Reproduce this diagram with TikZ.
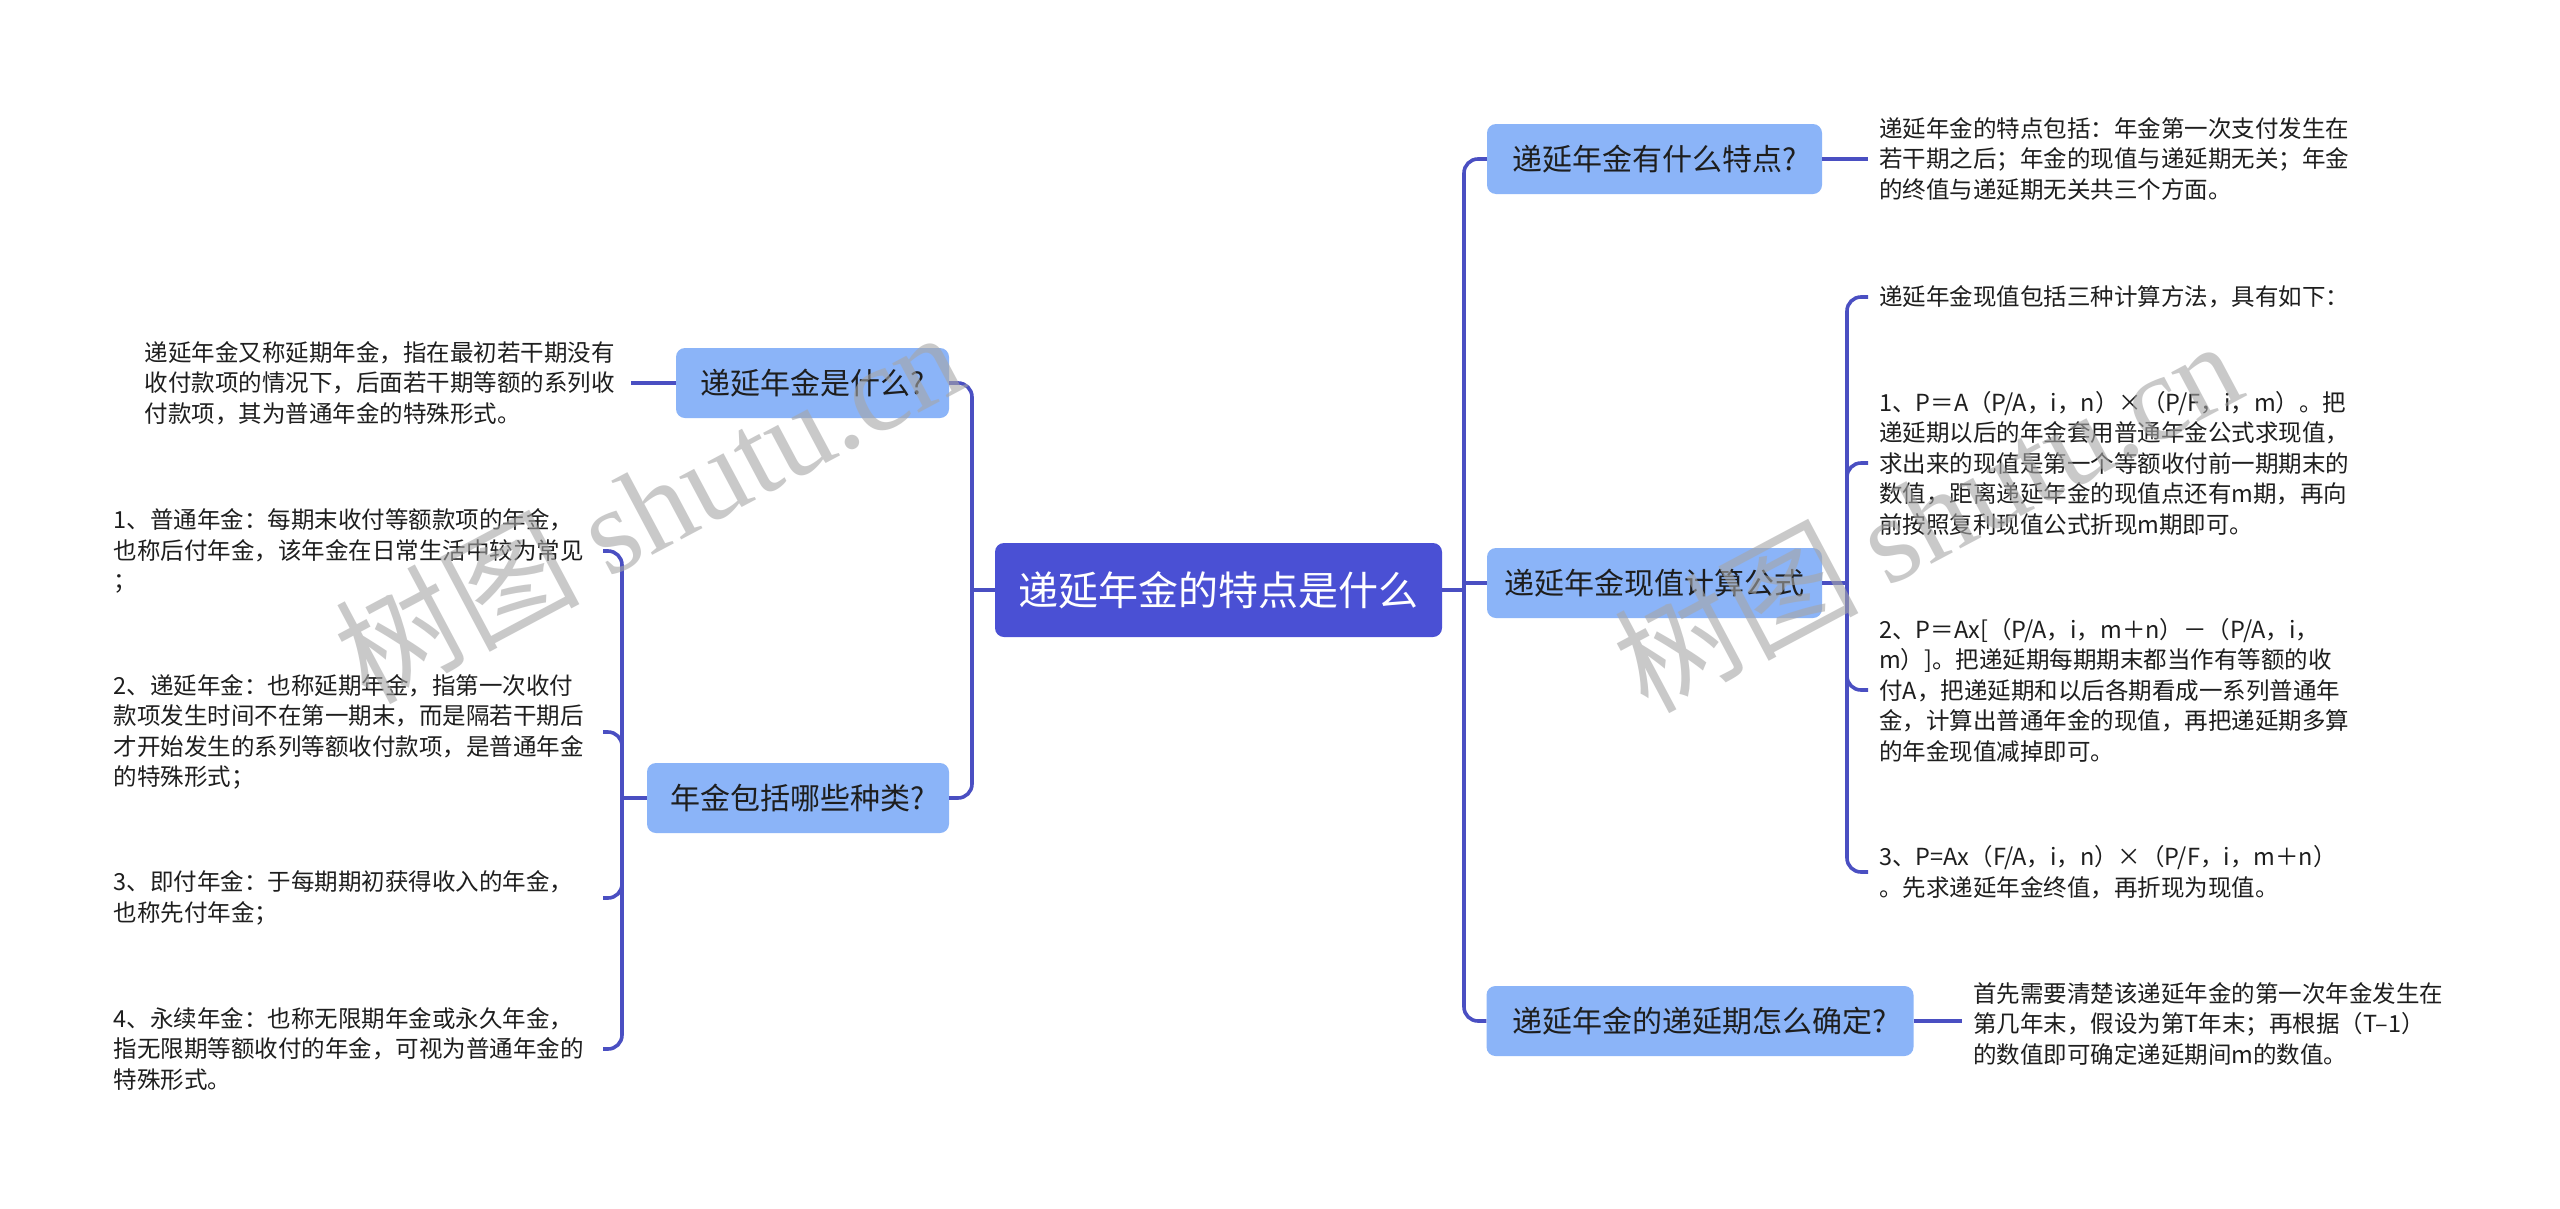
\documentclass[tikz,border=0pt]{standalone}
\usepackage{fontspec}
\setmainfont{Noto Sans CJK SC}
\newfontfamily\cjkfont{Noto Sans CJK SC}
\newfontfamily\wmfont{Liberation Serif}
\definecolor{rootblue}{HTML}{4A50D4}
\definecolor{topicblue}{HTML}{8BB4F8}
\definecolor{lineblue}{HTML}{4A4FC2}
\definecolor{textdark}{HTML}{1E1E1E}
\tikzset{
  conn/.style={draw=lineblue, line width=3.6pt, rounded corners=14pt},
  rootbox/.style={fill=rootblue, rounded corners=9pt, text=white, font=\fontsize{40}{48}\selectfont, minimum width=447pt, minimum height=94pt, inner sep=0pt},
  topic/.style={fill=topicblue, rounded corners=9pt, text=textdark, font=\fontsize{30}{36}\selectfont, minimum height=70pt, inner sep=0pt},
  leaf/.style={text=textdark, font=\fontsize{23.5}{30.5}\selectfont, align=left, inner xsep=11pt, inner ysep=0pt},
  wm/.style={text=gray!70, opacity=0.6, rotate=28, font=\fontsize{122}{130}\selectfont, inner sep=0pt},
}
\begin{document}
\begin{tikzpicture}[x=1pt, y=-1pt]
\useasboundingbox (0,0) rectangle (2560,1208);
\fill[white] (0,0) rectangle (2560,1208);

% root and topics
\node[rootbox] (root) at (1218.5,590) {递延年金的特点是什么};
\node[topic, minimum width=335pt] (b1) at (1654.5,159) {递延年金有什么特点?};
\node[topic, minimum width=335pt] (b2) at (1654.5,583) {递延年金现值计算公式};
\node[topic, minimum width=427pt] (b3) at (1700,1021) {递延年金的递延期怎么确定?};
\node[topic, minimum width=273pt] (a1) at (812.5,383) {递延年金是什么?};
\node[topic, minimum width=302pt] (a2) at (798,798) {年金包括哪些种类?};

% junctions
\coordinate (jr) at (1464,590);
\coordinate (jl) at (972,590);
\coordinate (jb2) at (1847,583);
\coordinate (ja2) at (622,798);

% right leaves
\node[leaf, anchor=west] (b1l) at (1868,159) {递延年金的特点包括：年金第一次支付发生在\\若干期之后；年金的现值与递延期无关；年金\\的终值与递延期无关共三个方面。};
\node[leaf, anchor=west] (b2l1) at (1868,297) {递延年金现值包括三种计算方法，具有如下：};
\node[leaf, anchor=west] (b2l2) at (1868,463) {1、P＝A（P/A，i，n）×（P/F，i，m）。把\\递延期以后的年金套用普通年金公式求现值，\\求出来的现值是第一个等额收付前一期期末的\\数值，距离递延年金的现值点还有m期，再向\\前按照复利现值公式折现m期即可。};
\node[leaf, anchor=west] (b2l3) at (1868,690) {2、P＝Ax[（P/A，i，m＋n）－（P/A，i，\\m）]。把递延期每期期末都当作有等额的收\\付A，把递延期和以后各期看成一系列普通年\\金，计算出普通年金的现值，再把递延期多算\\的年金现值减掉即可。};
\node[leaf, anchor=west] (b2l4) at (1868,872) {3、P=Ax（F/A，i，n）×（P/F，i，m＋n）\\。先求递延年金终值，再折现为现值。};
\node[leaf, anchor=west] (b3l) at (1962,1024) {首先需要清楚该递延年金的第一次年金发生在\\第几年末，假设为第T年末；再根据（T–1）\\的数值即可确定递延期间m的数值。};

% left leaves
\node[leaf, anchor=east, text width=475pt] (a1l) at (631,383) {递延年金又称延期年金，指在最初若干期没有\\收付款项的情况下，后面若干期等额的系列收\\付款项，其为普通年金的特殊形式。};
\node[leaf, anchor=east, text width=478pt] (a2l1) at (603,551) {1、普通年金：每期末收付等额款项的年金，\\也称后付年金，该年金在日常生活中较为常见\\；};
\node[leaf, anchor=east, text width=478pt] (a2l2) at (603,732) {2、递延年金：也称延期年金，指第一次收付\\款项发生时间不在第一期末，而是隔若干期后\\才开始发生的系列等额收付款项，是普通年金\\的特殊形式；};
\node[leaf, anchor=east, text width=478pt] (a2l3) at (603,898) {3、即付年金：于每期期初获得收入的年金，\\也称先付年金；};
\node[leaf, anchor=east, text width=478pt] (a2l4) at (603,1049) {4、永续年金：也称无限期年金或永久年金，\\指无限期等额收付的年金，可视为普通年金的\\特殊形式。};

% connectors
\draw[conn] (root.east) -- (jr);
\draw[conn] (jr) |- (b1.west);
\draw[conn] (jr) |- (b3.west);
\draw[conn] (jr |- b2.west) -- (b2.west);
\draw[conn] (root.west) -- (jl);
\draw[conn] (jl) |- (a1.east);
\draw[conn] (jl) |- (a2.east);

\draw[conn] (b1.east) -- (b1l.west);
\draw[conn] (b2.east) -- (jb2);
\draw[conn] (jb2) |- (b2l1.west);
\draw[conn] (jb2) |- (b2l2.west);
\draw[conn] (jb2) |- (b2l3.west);
\draw[conn] (jb2) |- (b2l4.west);
\draw[conn] (b3.east) -- (b3.east -| b3l.west);

\draw[conn] (a1.west) -- (a1l.east);
\draw[conn] (a2.west) -- (ja2);
\draw[conn] (ja2) |- (a2l1.east);
\draw[conn] (ja2) |- (a2l2.east);
\draw[conn] (ja2) |- (a2l3.east);
\draw[conn] (ja2) |- (a2l4.east);

% watermarks
\node[wm] (wm1) at (648,505) {\cjkfont 树图 \wmfont shutu.cn};
\node[wm] (wm2) at (1927,514) {\cjkfont 树图 \wmfont shutu.cn};
\end{tikzpicture}
\end{document}
